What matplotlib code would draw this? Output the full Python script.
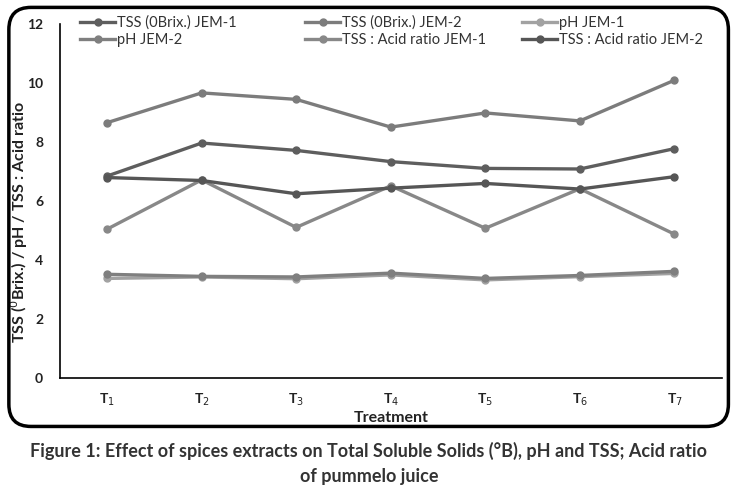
import matplotlib.pyplot as plt
from matplotlib.patches import FancyBboxPatch

plt.rcParams['font.family'] = ['Lato', 'DejaVu Sans']

treatments = ["T$_1$", "T$_2$", "T$_3$", "T$_4$", "T$_5$", "T$_6$", "T$_7$"]

tss_jem1 = [6.85, 7.97, 7.72, 7.34, 7.11, 7.09, 7.78]
tss_jem2 = [8.66, 9.67, 9.45, 8.51, 8.99, 8.72, 10.10]
ph_jem1 = [3.38, 3.43, 3.37, 3.50, 3.33, 3.44, 3.55]
ph_jem2 = [3.52, 3.45, 3.43, 3.56, 3.38, 3.48, 3.62]
ratio_jem1 = [5.05, 6.72, 5.11, 6.52, 5.08, 6.42, 4.88]
ratio_jem2 = [6.80, 6.70, 6.25, 6.44, 6.60, 6.41, 6.83]

series = [
    ("TSS (0Brix.) JEM-1", tss_jem1, "#5e5e5e"),
    ("TSS (0Brix.) JEM-2", tss_jem2, "#7c7c7c"),
    ("pH JEM-1", ph_jem1, "#a2a2a2"),
    ("pH JEM-2", ph_jem2, "#7f7f7f"),
    ("TSS : Acid ratio JEM-1", ratio_jem1, "#888888"),
    ("TSS : Acid ratio JEM-2", ratio_jem2, "#565656"),
]

fig = plt.figure(figsize=(7.38, 4.93), dpi=100)
ax = fig.add_axes([0.081, 0.233, 0.897, 0.718])

x = list(range(len(treatments)))
lines = []
for name, vals, col in series:
    ln, = ax.plot(x, vals, color=col, lw=2.4, marker='o', ms=5, label=name)
    lines.append(ln)

ax.set_xlim(-0.5, 6.5)
ax.set_ylim(0, 12)
ax.set_yticks(range(0, 13, 2))
ax.set_xticks(x)
ax.set_xticklabels(treatments)
ax.tick_params(length=0, labelsize=10, colors='#222222')
ax.tick_params(axis='y', pad=12)
ax.tick_params(axis='x', pad=10)
for lab in ax.get_yticklabels() + ax.get_xticklabels():
    lab.set_fontweight('bold')
ax.spines['top'].set_visible(False)
ax.spines['right'].set_visible(False)
ax.spines['left'].set_linewidth(1.2)
ax.spines['bottom'].set_linewidth(1.2)

ax.set_ylabel("TSS ($^0$Brix.) / pH / TSS : Acid ratio", fontsize=11.5,
              fontweight='bold', color='#222222')
ax.yaxis.set_label_coords(-0.045, 0.44)
ax.set_xlabel("Treatment", fontsize=11.5, fontweight='bold', color='#222222', labelpad=2)

# legend laid out row by row, one legend per column like the original
col_x = [80 / 738, 305 / 738, 522 / 738]
for i in range(3):
    hs = [lines[i], lines[i + 3]]
    leg = fig.legend(handles=hs, loc='upper left', bbox_to_anchor=(col_x[i], 0.968),
                     frameon=False, fontsize=10.5, handlelength=2.4, labelspacing=0.2,
                     handletextpad=0.15, borderpad=0, borderaxespad=0)
    for t in leg.get_texts():
        t.set_color('#333333')

box = FancyBboxPatch((0.012, 0.135), 0.975, 0.85, boxstyle="round,pad=0,rounding_size=0.03",
                     transform=fig.transFigure, fill=False, lw=2.5, ec='black',
                     mutation_aspect=738 / 493)
fig.patches.append(box)

fig.text(0.5, 0.086, "Figure 1: Effect of spices extracts on Total Soluble Solids (°B), pH and TSS; Acid ratio",
         ha='center', va='center', fontsize=13, fontweight='bold', color='#333333')
fig.text(0.5, 0.034, "of pummelo juice", ha='center', va='center', fontsize=13,
         fontweight='bold', color='#333333')

fig.savefig("out.png", dpi=100)
